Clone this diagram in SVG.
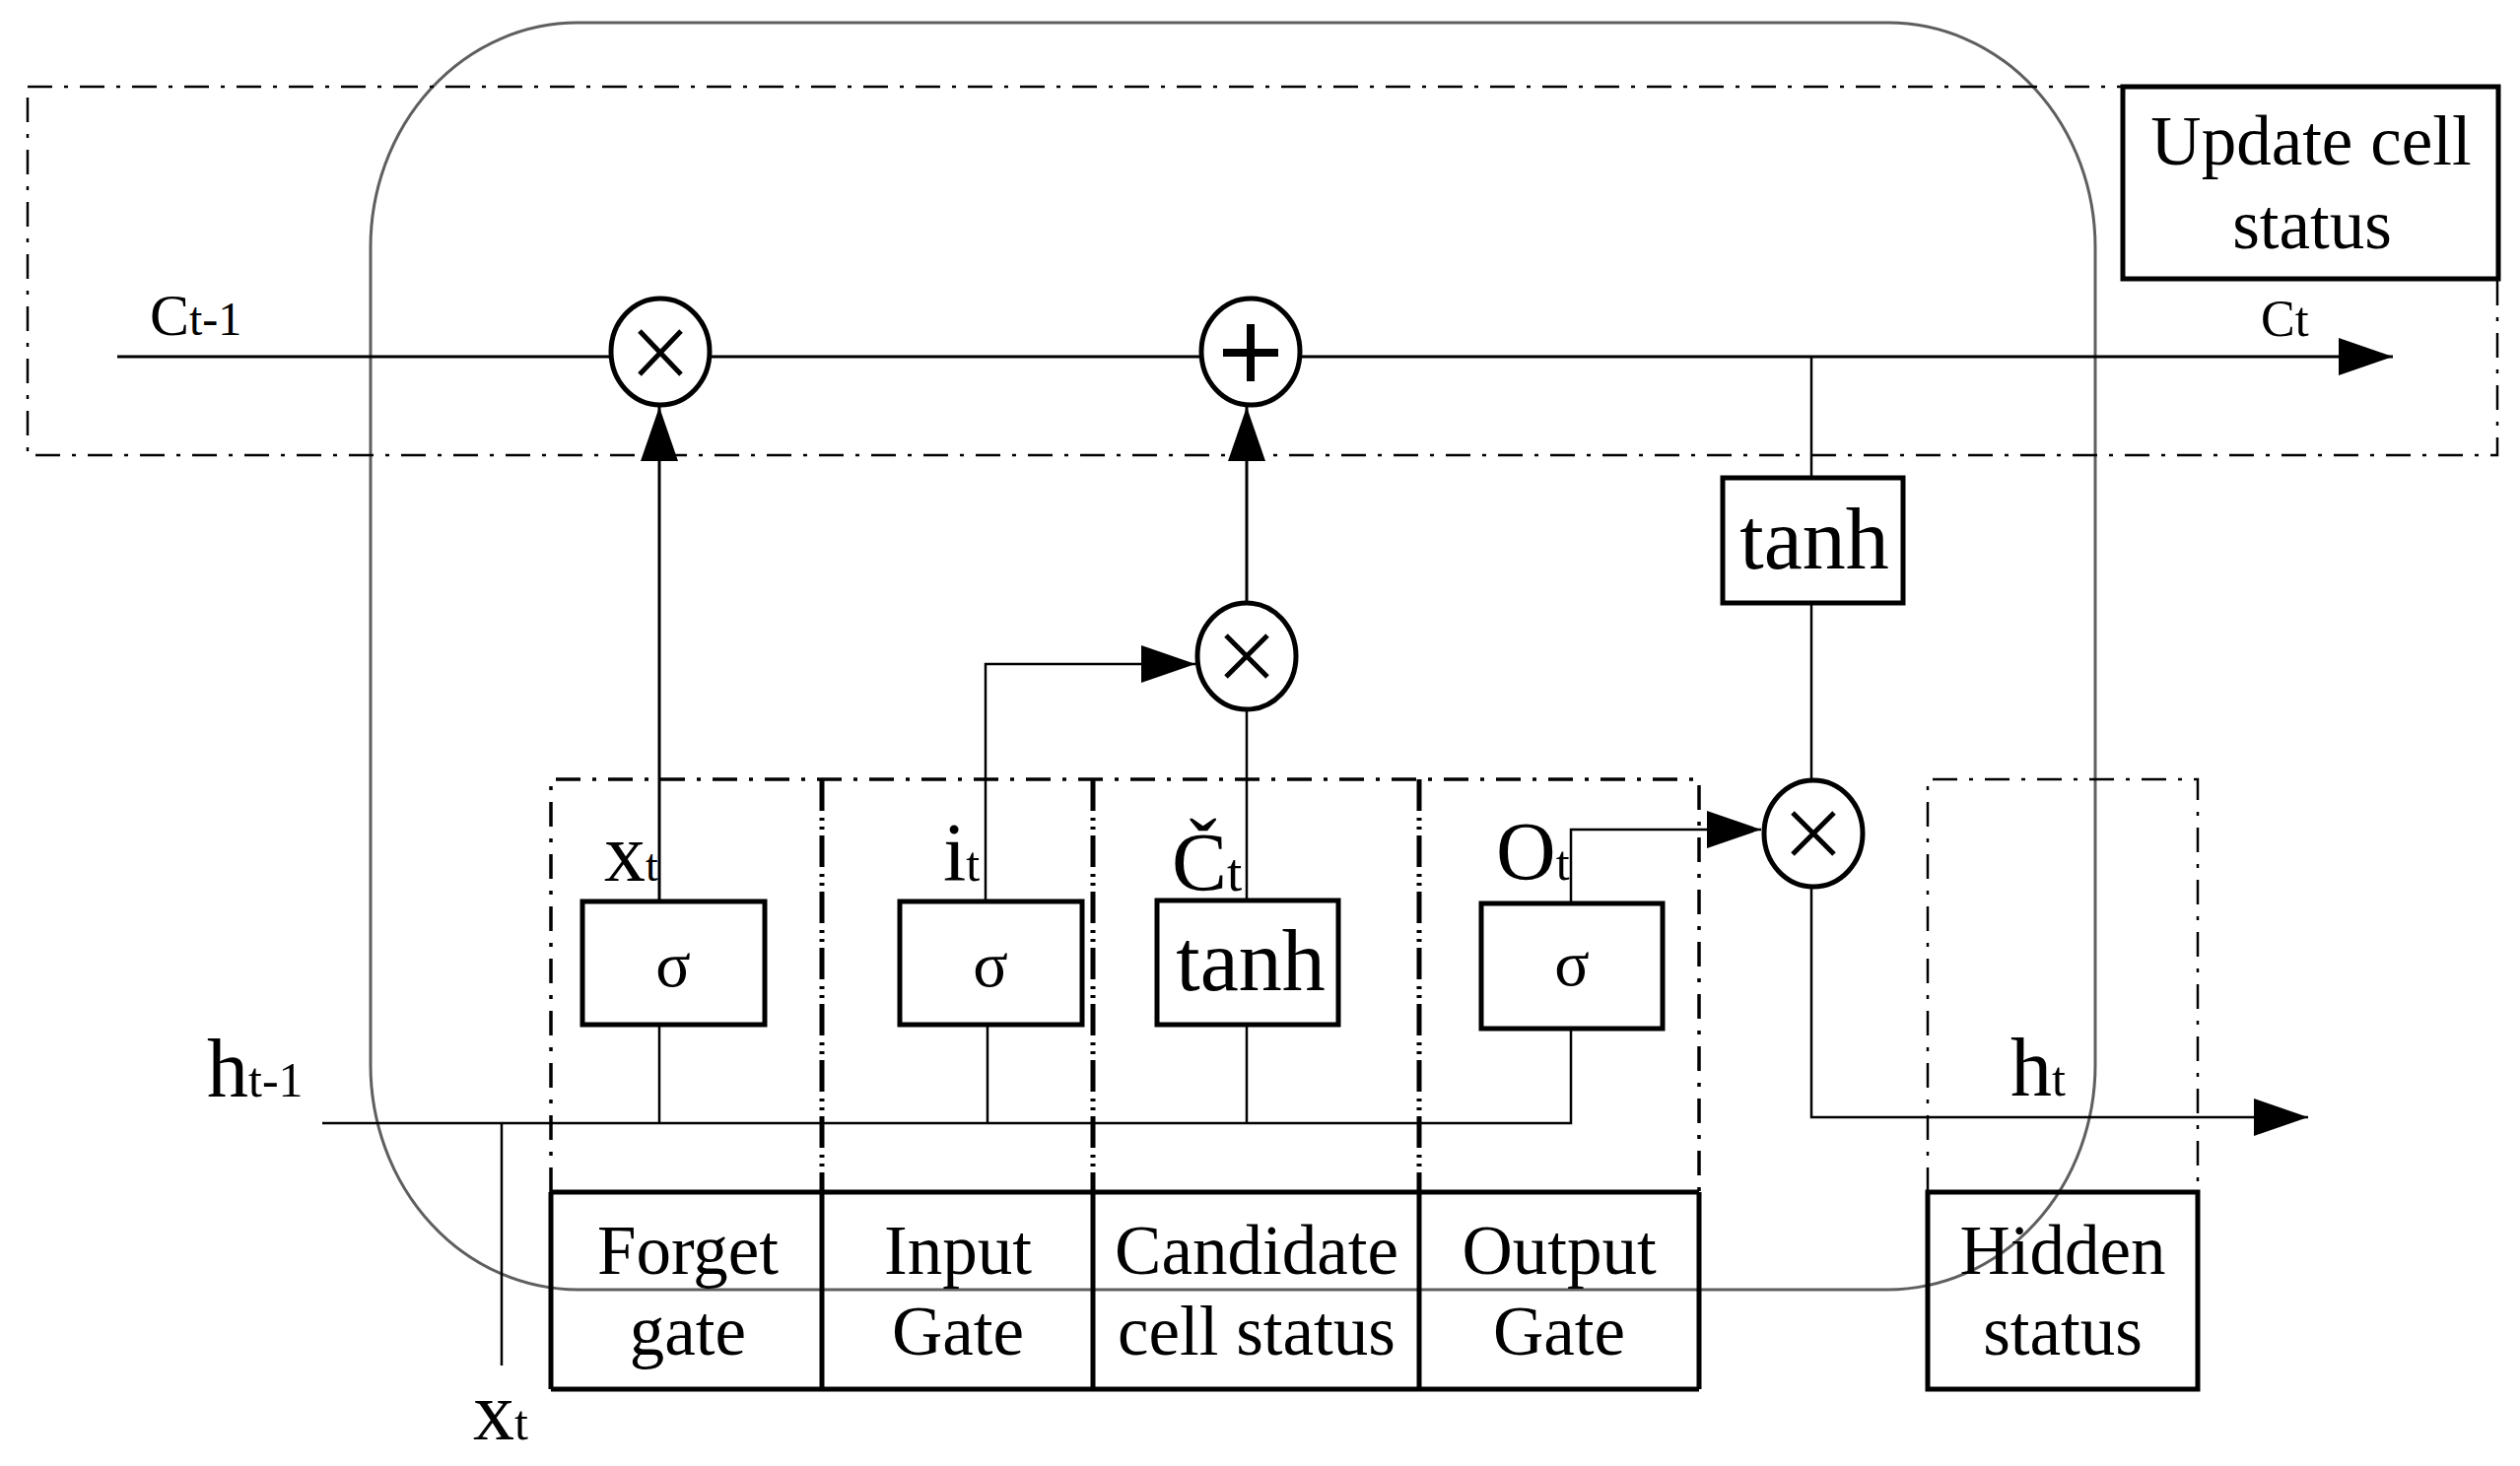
<svg xmlns="http://www.w3.org/2000/svg" width="2557" height="1488" viewBox="0 0 2557 1488">
<style>
.bg{fill:#ffffff}
.frame{fill:none;stroke:#5f5f5f;stroke-width:3}
.dd{fill:none;stroke:#000;stroke-width:2.5;stroke-dasharray:25 12 4 12}
.ddg{fill:none;stroke:#000;stroke-width:3.5;stroke-dasharray:25 12 4 12}
.ddd{fill:none;stroke:#000;stroke-width:5;stroke-dasharray:32 7 3 6 3 6}
.ln{fill:none;stroke:#000;stroke-width:3}
.thin{fill:none;stroke:#000;stroke-width:2.5}
.box{fill:#fff;stroke:#000;stroke-width:5}
.cell{fill:none;stroke:#000;stroke-width:5}
.op{fill:#fff;stroke:#000;stroke-width:5}
.sym{stroke:#000;stroke-width:5;fill:none}
.plus{stroke:#000;stroke-width:8;fill:none}
text{font-family:"Liberation Serif","Times New Roman",serif;fill:#000}
.lbl{font-size:71px;text-anchor:middle}
.var{font-size:84px}
.sub{font-size:50px}
.sig{font-size:66px;text-anchor:middle}
.fn{font-size:88px;text-anchor:middle}
</style>
<defs>
<marker id="arr" markerUnits="userSpaceOnUse" markerWidth="56" markerHeight="40" refX="55" refY="19" orient="auto">
<path d="M0,0 L55,19 L0,38 Z" fill="#000"/>
</marker>
</defs>
<rect class="bg" x="0" y="0" width="2557" height="1488"/>

<g id="lstm-cell-frame">
<rect class="frame" x="376" y="23" width="1750" height="1286" rx="210" ry="228"/>
</g>

<g id="update-region">
<rect class="dd" x="28" y="88" width="2506" height="374"/>
</g>
<g id="gate-region">
<path class="ddg" d="M559,1210 V791 H1724 V1210"/>
<path class="ddd" d="M834,791 V1210 M1109,791 V1210 M1440,791 V1210"/>
</g>
<g id="hidden-region">
<path class="dd" d="M1956,1210 V791 H2230 V1210"/>
</g>

<g id="connectors">
<path class="ln" d="M119,362 H620"/>
<path class="ln" d="M720,362 H1219"/>
<path class="ln" d="M1319,362 H2428" marker-end="url(#arr)"/>
<path class="ln" d="M669,915 V413" marker-end="url(#arr)"/>
<path class="ln" d="M1265,612 V413" marker-end="url(#arr)"/>
<path class="thin" d="M1000,915 V674 H1213" marker-end="url(#arr)"/>
<path class="thin" d="M1265,914 V720"/>
<path class="thin" d="M1594,917 V842 H1787" marker-end="url(#arr)"/>
<path class="thin" d="M1838,362 V485"/>
<path class="thin" d="M1838,612 V792"/>
<path class="thin" d="M1838,900 V1134 H2342" marker-end="url(#arr)"/>
<path class="thin" d="M327,1140 H1594 V1044"/>
<path class="thin" d="M669,1040 V1140"/>
<path class="thin" d="M1002,1040 V1140"/>
<path class="thin" d="M1265,1040 V1140"/>
<path class="thin" d="M509,1140 V1386"/>
</g>

<g id="label-c-prev">
<text x="152" y="340" font-size="60">C<tspan font-size="48">t-1</tspan></text>
</g>
<g id="label-c-t">
<text x="2294" y="341" font-size="52">C<tspan font-size="50">t</tspan></text>
</g>
<g id="label-h-prev">
<text class="var" x="210" y="1113">h<tspan class="sub">t-1</tspan></text>
</g>
<g id="label-x-in">
<text class="var" x="480" y="1461" font-size="80">x<tspan class="sub">t</tspan></text>
</g>
<g id="label-h-t">
<text class="var" x="2040" y="1112">h<tspan class="sub">t</tspan></text>
</g>

<g id="update-box">
<rect class="box" x="2154" y="88" width="381" height="195"/>
<text class="lbl" x="2345" y="167">Update cell</text>
<text class="lbl" x="2346" y="252">status</text>
</g>

<g id="mul-forget">
<ellipse class="op" cx="670" cy="357" rx="50" ry="54"/>
<path class="sym" d="M649,336 L691,380 M691,336 L649,380"/>
</g>
<g id="add-cell">
<ellipse class="op" cx="1269" cy="357" rx="50" ry="54"/>
<path class="plus" d="M1241,358 H1297 M1269,329 V387"/>
</g>
<g id="mul-input">
<ellipse class="op" cx="1265" cy="666" rx="50" ry="54"/>
<path class="sym" d="M1244,645 L1286,687 M1286,645 L1244,687"/>
</g>
<g id="mul-output">
<ellipse class="op" cx="1840" cy="846" rx="50" ry="54"/>
<path class="sym" d="M1819,825 L1861,867 M1861,825 L1819,867"/>
</g>

<g id="tanh-cell">
<rect class="box" x="1748" y="485" width="183" height="127"/>
<text class="fn" x="1841" y="577">tanh</text>
</g>

<g id="forget-gate">
<rect class="box" x="591" y="915" width="185" height="125"/>
<text class="sig" x="683" y="1001">σ</text>
<text class="var" x="613" y="894" font-size="80">x<tspan font-size="46">t</tspan></text>
</g>
<g id="input-gate">
<rect class="box" x="913" y="915" width="185" height="125"/>
<text class="sig" x="1005" y="1001">σ</text>
<text class="var" x="957" y="894" font-size="80">i<tspan class="sub">t</tspan></text>
</g>
<g id="candidate">
<rect class="box" x="1174" y="914" width="184" height="126"/>
<text class="fn" x="1269" y="1005">tanh</text>
<text class="var" x="1189" y="904" font-size="82">Č<tspan font-size="55">t</tspan></text>
</g>
<g id="output-gate">
<rect class="box" x="1503" y="917" width="184" height="127"/>
<text class="sig" x="1595" y="1000">σ</text>
<text class="var" x="1518" y="893" font-size="82">O<tspan class="sub">t</tspan></text>
</g>

<g id="gate-table">
<path class="cell" d="M559,1210 H1724 M559,1410 H1724 M559,1210 V1410 M834,1210 V1410 M1109,1210 V1410 M1440,1210 V1410 M1724,1210 V1410"/>
<text class="lbl" x="698" y="1293">Forget</text>
<text class="lbl" x="698" y="1375">gate</text>
<text class="lbl" x="972" y="1293">Input</text>
<text class="lbl" x="972" y="1375">Gate</text>
<text class="lbl" x="1275" y="1293">Candidate</text>
<text class="lbl" x="1275" y="1375">cell status</text>
<text class="lbl" x="1582" y="1293">Output</text>
<text class="lbl" x="1582" y="1375">Gate</text>
</g>
<g id="hidden-status">
<rect class="cell" x="1956" y="1210" width="274" height="200"/>
<text class="lbl" x="2093" y="1293">Hidden</text>
<text class="lbl" x="2093" y="1375">status</text>
</g>
</svg>
